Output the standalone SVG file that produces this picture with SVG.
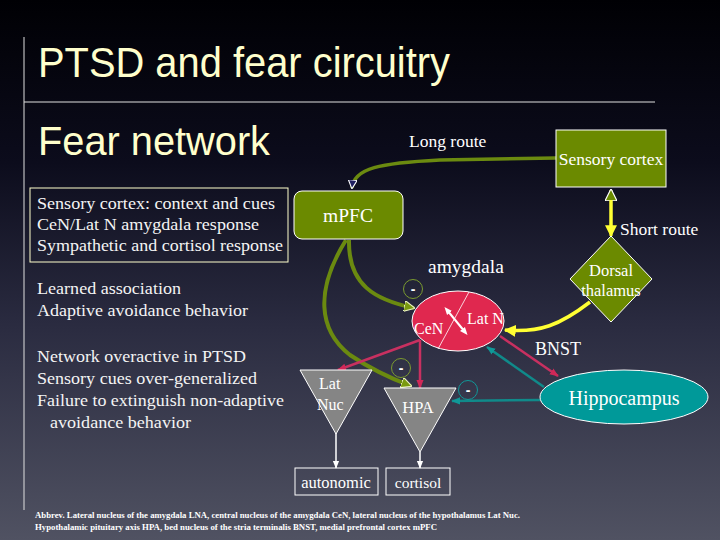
<svg xmlns="http://www.w3.org/2000/svg" width="720" height="540" viewBox="0 0 720 540">
<defs>
<linearGradient id="bg" x1="0" y1="0" x2="0" y2="1">
<stop offset="0" stop-color="#000004"/>
<stop offset="0.3" stop-color="#0c0c1c"/>
<stop offset="0.6" stop-color="#2a2b40"/>
<stop offset="1" stop-color="#505262"/>
</linearGradient>
<marker id="mNavy" viewBox="0 0 10 10" refX="9" refY="5" markerWidth="9" markerHeight="9" markerUnits="userSpaceOnUse" orient="auto"><path d="M0,0 L10,5 L0,10 Z" fill="#202060" stroke="#ffffff" stroke-width="1.2"/></marker>
<marker id="mOlive" viewBox="0 0 10 10" refX="9" refY="5" markerWidth="11" markerHeight="11" markerUnits="userSpaceOnUse" orient="auto"><path d="M0,0 L10,5 L0,10 Z" fill="#7a9a10" stroke="#e8f0c0" stroke-width="1"/></marker>
<marker id="mOpenUp" viewBox="0 0 10 10" refX="9" refY="5" markerWidth="12" markerHeight="12" markerUnits="userSpaceOnUse" orient="auto"><path d="M0,0 L10,5 L0,10 Z" fill="#6b8a00" stroke="#ffffff" stroke-width="1"/></marker>
<marker id="mYellow" viewBox="0 0 10 10" refX="9" refY="5" markerWidth="12" markerHeight="12" markerUnits="userSpaceOnUse" orient="auto"><path d="M0,0 L10,5 L0,10 Z" fill="#ffff33"/></marker>
<marker id="mRed" viewBox="0 0 10 10" refX="9" refY="5" markerWidth="9" markerHeight="9" markerUnits="userSpaceOnUse" orient="auto"><path d="M0,1 L10,5 L0,9 Z" fill="#d02858"/></marker>
<marker id="mTeal" viewBox="0 0 10 10" refX="9" refY="5" markerWidth="9" markerHeight="9" markerUnits="userSpaceOnUse" orient="auto"><path d="M0,1 L10,5 L0,9 Z" fill="#109898"/></marker>
<marker id="mWhite" viewBox="0 0 10 10" refX="9" refY="5" markerWidth="8" markerHeight="8" markerUnits="userSpaceOnUse" orient="auto"><path d="M0,1 L10,5 L0,9 Z" fill="#ffffff"/></marker>
<marker id="mWhiteS" viewBox="0 0 10 10" refX="5" refY="5" markerWidth="8" markerHeight="8" markerUnits="userSpaceOnUse" orient="auto-start-reverse"><path d="M0,1 L10,5 L0,9 Z" fill="#ffffff"/></marker>
</defs>
<style>
.title{font-family:"Liberation Sans",Arial,sans-serif;fill:#ffffcc}
.body{font-family:"Liberation Serif","DejaVu Serif",serif;font-size:16.5px;fill:#f4f4f4}
.lbl{font-family:"Liberation Serif","DejaVu Serif",serif;fill:#ffffff}
.abbr{font-family:"Liberation Serif","DejaVu Serif",serif;font-size:9px;fill:#ffffff;font-weight:bold}
.olive{fill:#6b8a00;stroke:#ffffff;stroke-width:1}
.gcurve{fill:none;stroke:#6b8a10;stroke-width:4}
.minus{fill:none;stroke-width:1}
.mtxt{font-family:"Liberation Sans",Arial,sans-serif;font-size:14px;font-weight:bold;fill:#ffffff}
</style>
<rect x="0" y="0" width="720" height="540" fill="url(#bg)"/>
<line x1="24" y1="37" x2="24" y2="510" stroke="#e0e0e0" stroke-width="1"/>
<line x1="24" y1="102" x2="655" y2="102" stroke="#e0e0e0" stroke-width="1"/>
<text class="title" x="38" y="77" font-size="42" textLength="412" lengthAdjust="spacingAndGlyphs">PTSD and fear circuitry</text>
<text class="title" x="38" y="155" font-size="40" textLength="232" lengthAdjust="spacingAndGlyphs">Fear network</text>

<g id="textbox">
<rect x="30" y="188" width="258" height="74" fill="none" stroke="#ffffcc" stroke-width="1"/>
<text class="body" x="37" y="209" textLength="238" lengthAdjust="spacingAndGlyphs">Sensory cortex: context and cues</text>
<text class="body" x="37" y="230" textLength="222" lengthAdjust="spacingAndGlyphs">CeN/Lat N amygdala response</text>
<text class="body" x="37" y="251" textLength="246" lengthAdjust="spacingAndGlyphs">Sympathetic and cortisol response</text>
</g>
<g id="bullets">
<text class="body" x="37" y="294" textLength="144" lengthAdjust="spacingAndGlyphs">Learned association</text>
<text class="body" x="37" y="316" textLength="211" lengthAdjust="spacingAndGlyphs">Adaptive avoidance behavior</text>
<text class="body" x="37" y="362" textLength="209" lengthAdjust="spacingAndGlyphs">Network overactive in PTSD</text>
<text class="body" x="37" y="384" textLength="220" lengthAdjust="spacingAndGlyphs">Sensory cues over-generalized</text>
<text class="body" x="37" y="406" textLength="247" lengthAdjust="spacingAndGlyphs">Failure to extinguish non-adaptive</text>
<text class="body" x="50" y="428" textLength="141" lengthAdjust="spacingAndGlyphs">avoidance behavior</text>
</g>

<g id="connectors">
<path d="M556,158 L440,160 C380,163 354,168 352,188" fill="none" stroke="#6b8a10" stroke-width="3.5" marker-end="url(#mNavy)"/>
<line x1="611" y1="230" x2="611" y2="190" stroke="#ffff33" stroke-width="3" marker-end="url(#mOpenUp)"/>
<line x1="611" y1="200" x2="611" y2="236" stroke="#ffff33" stroke-width="3" marker-end="url(#mYellow)"/>
<path d="M349,240 C348,285 375,300 414,308" class="gcurve" marker-end="url(#mOlive)"/>
<path d="M346,240 C315,290 318,330 350,355 C375,372 395,380 411,386" class="gcurve" marker-end="url(#mOlive)"/>
<path d="M590,302 C560,325 540,333 505,330" fill="none" stroke="#ffff33" stroke-width="3.5" marker-end="url(#mYellow)"/>
<line x1="420" y1="340" x2="338" y2="370" stroke="#c83060" stroke-width="2.5" marker-end="url(#mRed)"/>
<line x1="420" y1="340" x2="420" y2="388" stroke="#c83060" stroke-width="2.5" marker-end="url(#mRed)"/>
<line x1="500" y1="336" x2="558" y2="376" stroke="#c83060" stroke-width="2.5" marker-end="url(#mRed)"/>
<line x1="544" y1="387" x2="487" y2="347" stroke="#108a8a" stroke-width="2.5" marker-end="url(#mTeal)"/>
<line x1="540" y1="400" x2="452" y2="401" stroke="#108a8a" stroke-width="2.5" marker-end="url(#mTeal)"/>
<line x1="336" y1="433" x2="336" y2="468" stroke="#ffffff" stroke-width="1.5" marker-end="url(#mWhite)"/>
<line x1="420" y1="452" x2="420" y2="468" stroke="#ffffff" stroke-width="1.5" marker-end="url(#mWhite)"/>
</g>

<text class="lbl" x="409" y="147" font-size="17.5">Long route</text>
<text class="lbl" x="620" y="235" font-size="17.5">Short route</text>
<text class="lbl" x="428" y="273" font-size="19.5">amygdala</text>
<text class="lbl" x="535" y="355" font-size="18">BNST</text>

<g id="sensory-cortex">
<rect class="olive" x="556" y="130" width="110" height="57"/>
<text class="lbl" x="611" y="165" font-size="17.5" text-anchor="middle">Sensory cortex</text>
</g>
<g id="mpfc">
<rect class="olive" x="294" y="191" width="109" height="48" rx="8"/>
<text class="lbl" x="348" y="222" font-size="19.5" text-anchor="middle">mPFC</text>
</g>
<g id="dorsal-thalamus">
<path class="olive" d="M611,236 L652,279 L611,322 L570,279 Z" stroke="none"/>
<text class="lbl" x="611" y="276" font-size="16.5" text-anchor="middle">Dorsal</text>
<text class="lbl" x="611" y="296" font-size="16.5" text-anchor="middle">thalamus</text>
</g>
<g id="amygdala">
<ellipse cx="458" cy="321" rx="46" ry="30" fill="#e0284f" stroke="#ffffff" stroke-width="1"/>
<line x1="469" y1="292" x2="438" y2="349" stroke="#ffffff" stroke-width="0.8"/>
<line x1="447" y1="310" x2="465" y2="332" stroke="#ffffff" stroke-width="2" marker-start="url(#mWhiteS)" marker-end="url(#mWhiteS)"/>
<text class="lbl" x="414" y="334" font-size="16">CeN</text>
<text class="lbl" x="467" y="324" font-size="16">Lat N</text>
</g>
<g id="lat-nuc">
<path d="M300,370 L372,370 L336,434 Z" fill="#858585" stroke="#ffffff" stroke-width="1"/>
<text class="lbl" x="319" y="389" font-size="16">Lat</text>
<text class="lbl" x="317" y="410" font-size="16">Nuc</text>
</g>
<g id="hpa">
<path d="M384,388 L456,388 L420,452 Z" fill="#858585" stroke="#ffffff" stroke-width="1"/>
<text class="lbl" x="418" y="413" font-size="16.5" text-anchor="middle">HPA</text>
</g>
<g id="hippocampus">
<ellipse cx="624" cy="397" rx="84" ry="27" fill="#009999" stroke="#ffffff" stroke-width="1"/>
<text class="lbl" x="624" y="405" font-size="20" text-anchor="middle">Hippocampus</text>
</g>
<g id="autonomic">
<rect x="295" y="468" width="83" height="27" fill="none" stroke="#ffffff" stroke-width="1"/>
<text class="lbl" x="336" y="488" font-size="16.5" text-anchor="middle">autonomic</text>
</g>
<g id="cortisol">
<rect x="386" y="468" width="64" height="27" fill="none" stroke="#ffffff" stroke-width="1"/>
<text class="lbl" x="418" y="488" font-size="15.5" text-anchor="middle">cortisol</text>
</g>
<g id="minus-signs">
<circle class="minus" cx="413" cy="289" r="9.5" stroke="#7a9a30"/>
<text class="mtxt" x="413" y="294" text-anchor="middle">-</text>
<circle class="minus" cx="401" cy="368" r="9.5" stroke="#7a9a30"/>
<text class="mtxt" x="401" y="373" text-anchor="middle">-</text>
<circle class="minus" cx="468" cy="390" r="9.5" stroke="#109898"/>
<text class="mtxt" x="468" y="395" text-anchor="middle">-</text>
</g>
<text class="abbr" x="35" y="518" textLength="485" lengthAdjust="spacingAndGlyphs">Abbrev. Lateral nucleus of the amygdala LNA, central nucleus of the amygdala CeN, lateral nucleus of the hypothalamus Lat Nuc.</text>
<text class="abbr" x="35" y="530" textLength="402" lengthAdjust="spacingAndGlyphs">Hypothalamic pituitary axis HPA, bed nucleus of the stria terminalis BNST, medial prefrontal cortex mPFC</text>
</svg>
